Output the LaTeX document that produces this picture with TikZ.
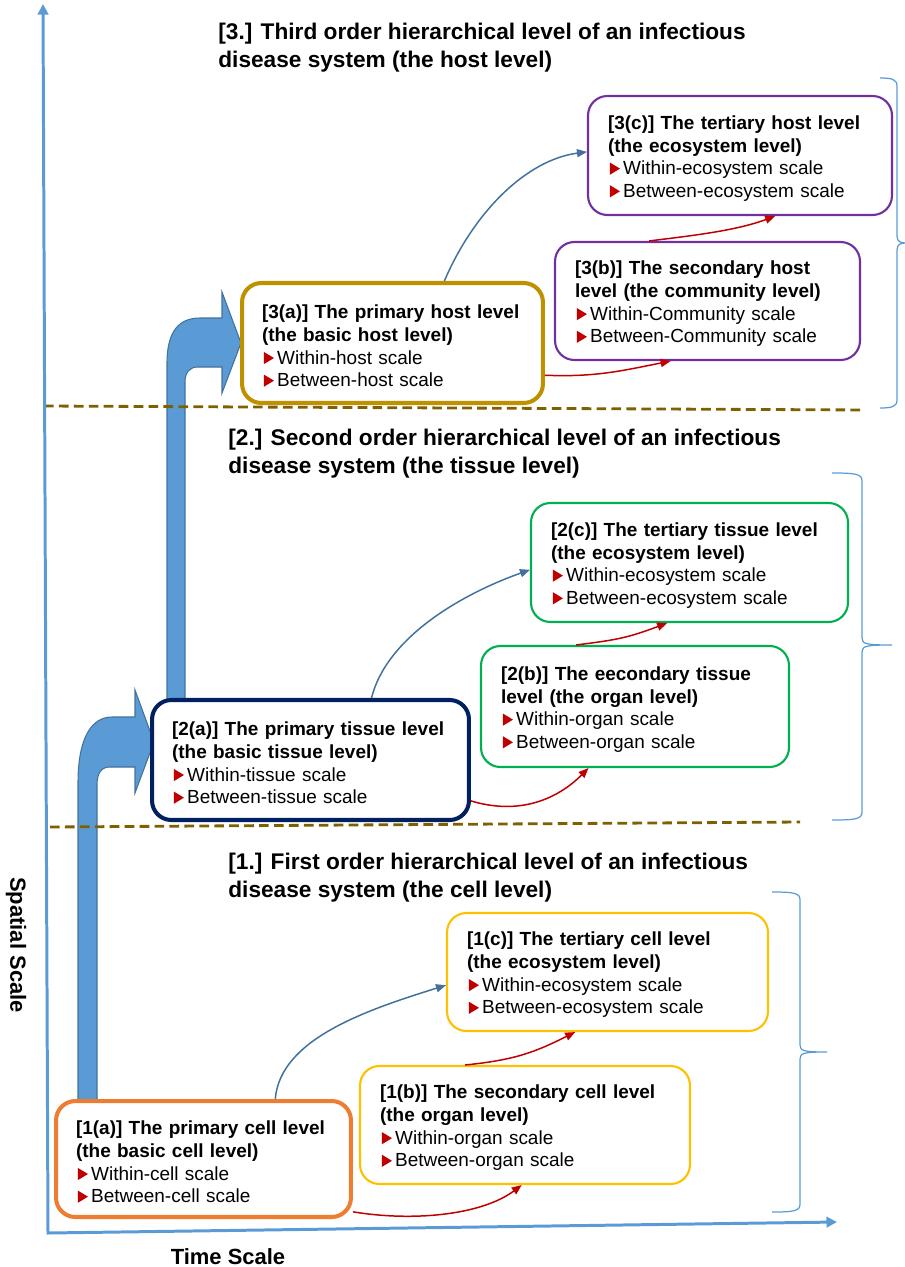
\documentclass[tikz,border=0pt]{standalone}
\usepackage{fontspec}
\setmainfont{Liberation Sans}
\usetikzlibrary{arrows.meta}
\usetikzlibrary{calc}

\definecolor{axisblue}{HTML}{5B9BD5}
\definecolor{arrowline}{HTML}{41719C}
\definecolor{linkred}{HTML}{C00000}
\definecolor{dashbrown}{HTML}{7F6000}
\definecolor{hostgold}{HTML}{BF9000}
\definecolor{hostpurple}{HTML}{7030A0}
\definecolor{tissuenavy}{HTML}{002060}
\definecolor{tissuegreen}{HTML}{00B050}
\definecolor{cellorange}{HTML}{ED7D31}
\definecolor{cellyellow}{HTML}{FFC000}

\newcommand\boxfont{\fontsize{10.8}{12.9}\selectfont}
\newcommand\headfont{\fontsize{12.9}{15.9}\selectfont\bfseries}
\newcommand\tri{\hspace*{1pt}\tikz[x=1pt,y=1pt,baseline=0pt,sharp corners]\fill[linkred] (0,0) -- (5.8,3.5) -- (0,7) -- cycle;\hspace{1.8pt}}

\begin{document}
\begin{tikzpicture}[x=0.02cm, y=-0.02cm,
    lvlbox/.style={draw=#1, rounded corners=11pt, fill=white, align=left, font=\boxfont, inner xsep=0.4cm, inner ysep=0pt,
      execute at begin node={\rule{0pt}{11.3pt}}},
    thinbox/.style={lvlbox=#1, line width=1.2pt},
    thickbox/.style={lvlbox=#1, line width=2.3pt},
    bluelink/.style={draw=arrowline, line width=0.85pt, -{Triangle[length=5.7pt,width=4.6pt]}},
    redlink/.style={draw=linkred, line width=0.85pt, -{Triangle[length=5.7pt,width=4.6pt]}},
    levelhead/.style={anchor=west, align=left, font=\headfont, inner sep=0pt},
    axislabel/.style={font=\fontsize{12.5}{15}\selectfont\bfseries, inner sep=0pt},
    bentarrow/.style={fill=axisblue, draw=arrowline, line width=0.6pt},
    levelsep/.style={draw=dashbrown, line width=1.6pt, dash pattern=on 5.5pt off 3pt},
    scalebrace/.style={draw=axisblue, line width=0.7pt},
    axisline/.style={draw=axisblue, line width=1.7pt, {Triangle[length=6pt,width=6pt]}-{Triangle[length=6pt,width=6pt]}}]
  \useasboundingbox (0,0) rectangle (905,1267);

  % bent arrows between the levels
  \draw[bentarrow] (167,705) -- (167,363) .. controls (167,330) and (180,318) .. (200,318) -- (222,318) -- (222,292) -- (241,343) -- (222,393) -- (222,367) -- (198,367) .. controls (190,367) and (185,372) .. (185,382) -- (185,705) -- cycle;
  \draw[bentarrow] (78,1110) -- (78,783) .. controls (78,737) and (92,717) .. (112,717) -- (135,717) -- (135,690) -- (154,742) -- (135,793) -- (135,767) -- (110,767) .. controls (102,767) and (97,772) .. (97,785) -- (97,1110) -- cycle;

  % level separators
  \coordinate (sep3w) at (44,406);
  \coordinate (sep3e) at (865,410);
  \coordinate (sep2w) at (50,827);
  \coordinate (sep2e) at (800,822);
  \draw[levelsep] (sep3w) -- (sep3e);
  \draw[levelsep] (sep2w) -- (sep2e);

  % host level
  \node[thickbox=hostgold, minimum width=6.02cm, minimum height=2.4cm, text width=5.22cm] (p3a) at (392.5,343)
    {\textbf{[3(a)] The primary host level}\\\textbf{(the basic host level)}\\\tri Within-host scale\\\tri Between-host scale};
  \node[thinbox=hostpurple, minimum width=6.1cm, minimum height=2.36cm, text width=5.3cm] (p3b) at (707.5,301)
    {\textbf{[3(b)] The secondary host}\\\textbf{level (the community level)}\\\tri Within-Community scale\\\tri Between-Community scale};
  \node[thinbox=hostpurple, minimum width=6.08cm, minimum height=2.38cm, text width=5.28cm] (p3c) at (740,155.5)
    {\textbf{[3(c)] The tertiary host level}\\\textbf{(the ecosystem level)}\\\tri Within-ecosystem scale\\\tri Between-ecosystem scale};

  % tissue level
  \node[thickbox=tissuenavy, minimum width=6.34cm, minimum height=2.4cm, text width=5.54cm] (p2a) at (310.5,760)
    {\textbf{[2(a)] The primary tissue level}\\\textbf{(the basic tissue level)}\\\tri Within-tissue scale\\\tri Between-tissue scale};
  \node[thinbox=tissuegreen, minimum width=6.16cm, minimum height=2.42cm, text width=5.36cm] (p2b) at (635,706.5)
    {\textbf{[2(b)] The eecondary tissue}\\\textbf{level (the organ level)}\\\tri Within-organ scale\\\tri Between-organ scale};
  \node[thinbox=tissuegreen, minimum width=6.34cm, minimum height=2.38cm, text width=5.54cm] (p2c) at (689.5,562.5)
    {\textbf{[2(c)] The tertiary tissue level}\\\textbf{(the ecosystem level)}\\\tri Within-ecosystem scale\\\tri Between-ecosystem scale};

  % cell level
  \node[thickbox=cellorange, minimum width=5.9cm, minimum height=2.32cm, text width=5.1cm] (p1a) at (203.5,1159)
    {\textbf{[1(a)] The primary cell level}\\\textbf{(the basic cell level)}\\\tri Within-cell scale\\\tri Between-cell scale};
  \node[thinbox=cellyellow, minimum width=6.6cm, minimum height=2.36cm, text width=5.8cm] (p1b) at (525,1125)
    {\textbf{[1(b)] The secondary cell level}\\\textbf{(the organ level)}\\\tri Within-organ scale\\\tri Between-organ scale};
  \node[thinbox=cellyellow, minimum width=6.42cm, minimum height=2.36cm, text width=5.62cm] (p1c) at (607.5,972)
    {\textbf{[1(c)] The tertiary cell level}\\\textbf{(the ecosystem level)}\\\tri Within-ecosystem scale\\\tri Between-ecosystem scale};

  % links
  \draw[bluelink] ($(p3a.north west)!0.67!(p3a.north east)$) .. controls +(30,-70) and +(-60,8) .. ($(p3c.north west)!0.47!(p3c.south west)$);
  \draw[redlink] ($(p3a.north east)!0.76!(p3a.south east)$) .. controls +(50,2) and +(-50,10) .. ($(p3b.south west)!0.38!(p3b.south east)$);
  \draw[redlink] ($(p3b.north west)!0.31!(p3b.north east)$) .. controls +(40,-5) and +(-40,15) .. ($(p3c.south west)!0.615!(p3c.south east)$);
  \draw[bluelink] ($(p2a.north west)!0.69!(p2a.north east)$) .. controls +(15,-60) and +(-70,25) .. ($(p2c.north west)!0.56!(p2c.south west)$);
  \draw[redlink] ($(p2a.north east)!0.83!(p2a.south east)$) .. controls +(50,15) and +(-30,30) .. ($(p2b.south west)!0.35!(p2b.south east)$);
  \draw[redlink] ($(p2b.north west)!0.31!(p2b.north east)$) .. controls +(40,-5) and +(-40,15) .. ($(p2c.south west)!0.43!(p2c.south east)$);
  \draw[bluelink] ($(p1a.north west)!0.74!(p1a.north east)$) .. controls +(5,-60) and +(-80,25) .. ($(p1c.north west)!0.61!(p1c.south west)$);
  \draw[redlink] ($(p1a.north east)!0.94!(p1a.south east)$) .. controls +(60,10) and +(-40,30) .. ($(p1b.south west)!0.49!(p1b.south east)$);
  \draw[redlink] ($(p1b.north west)!0.32!(p1b.north east)$) .. controls +(50,-5) and +(-40,20) .. ($(p1c.south west)!0.4!(p1c.south east)$);

  % level headings
  \node[levelhead] (head3) at (218,48) {[3.] Third order hierarchical level of an infectious\\disease system (the host level)};
  \node[levelhead] (head2) at (228,454) {[2.] Second order hierarchical level of an infectious\\disease system (the tissue level)};
  \node[levelhead] (head1) at (228,878) {[1.] First order hierarchical level of an infectious\\disease system (the cell level)};

  % braces
  \foreach \bx/\hx/\tx/\ya/\ym/\yb in {897/880/906/78/243/408, 862/832/892/473/645/820, 800/772/827/892/1052/1212}
    \draw[scalebrace] (\hx,\ya) .. controls (\bx-6,\ya) and (\bx,\ya+1) .. (\bx,\ya+8) -- (\bx,\ym-7)
      .. controls (\bx,\ym-1) and (\bx+4,\ym) .. (\tx,\ym) .. controls (\bx+4,\ym) and (\bx,\ym+1) .. (\bx,\ym+7)
      -- (\bx,\yb-8) .. controls (\bx,\yb-1) and (\bx-6,\yb) .. (\hx,\yb);

  % axes
  \coordinate (origin) at (48,1233);
  \coordinate (ytop) at (43,4);
  \coordinate (xend) at (837,1222);
  \draw[axisline] (ytop) -- (origin) -- (xend);
  \node[axislabel, rotate=-90] (spatial) at (16,945) {Spatial Scale};
  \node[axislabel] (time) at (228,1257) {Time Scale};
\end{tikzpicture}
\end{document}
